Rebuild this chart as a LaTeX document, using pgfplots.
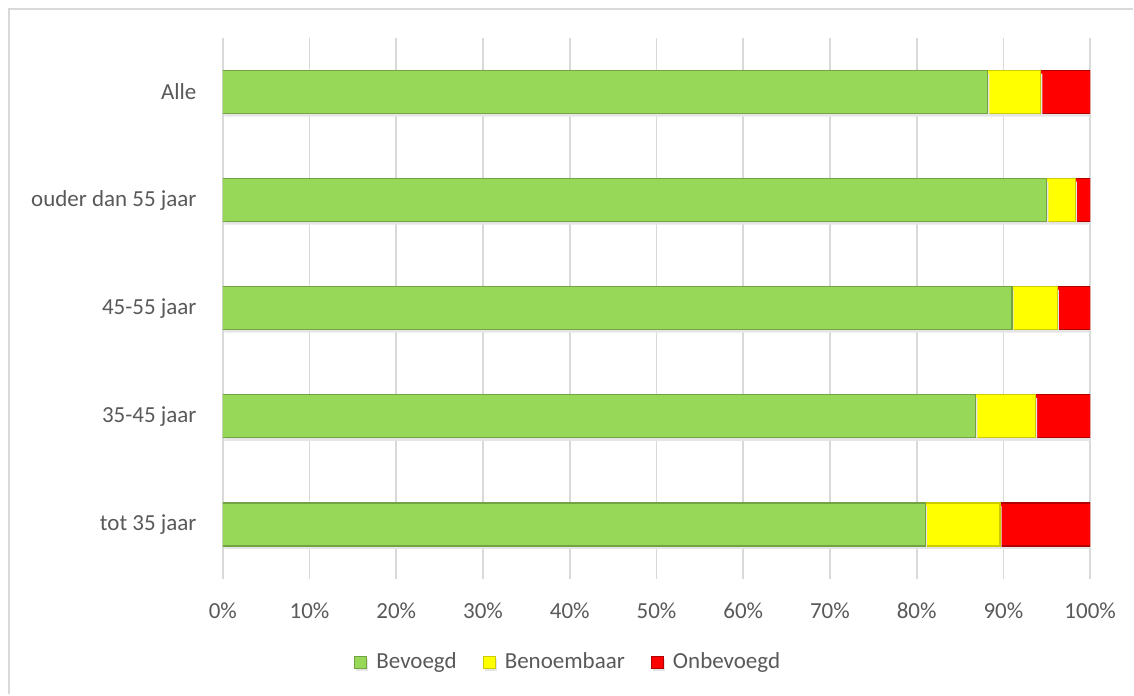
\documentclass[border=0pt]{standalone}
\usepackage{pgfplots}
\pgfplotsset{compat=1.18}
\usepackage{fontspec}
\setmainfont{Carlito}

\definecolor{txtgray}{HTML}{595959}
\definecolor{gridgray}{HTML}{D9D9D9}
\definecolor{bevoegd}{HTML}{98D858}
\definecolor{benoembaar}{HTML}{FFFF00}
\definecolor{onbevoegd}{HTML}{FF0000}

\begin{document}
\begin{tikzpicture}
\fill[white] (-111.5pt,-58pt) rectangle (455.5pt,289.5pt);
% frame of the chart area (only top and left visible in the crop)
\draw[gridgray, line width=0.9pt] (-107pt,-58pt) -- (-107pt,285pt) -- (455.5pt,285pt);
\begin{axis}[
    at={(0,0)}, anchor=south west,
    scale only axis,
    width=434pt, height=270.5pt,
    xbar stacked,
    bar width=21.5pt,
    xmin=0, xmax=100,
    ymin=-0.5, ymax=4.5,
    xtick={0,10,...,100},
    ytick={0,1,2,3,4},
    yticklabels={tot 35 jaar, 35-45 jaar, 45-55 jaar, ouder dan 55 jaar, Alle},
    xticklabel={\pgfmathprintnumber{\tick}\%},
    /pgf/number format/assume math mode=true,
    xmajorgrids,
    grid style={draw=gridgray, line width=0.9pt},
    axis line style={draw=none},
    major tick style={draw=none},
    tick label style={font=\fontsize{11.5}{13}\selectfont, text=txtgray, inner sep=0pt},
    xticklabel style={anchor=center, yshift=-16pt},
    yticklabel style={anchor=east, xshift=-13pt},
    legend columns=3,
    legend style={
        at={(axis description cs:0.397,-0.155)},
        anchor=center,
        draw=none, fill=none,
        font=\fontsize{11.5}{13}\selectfont,
        text=txtgray,
        nodes={inner sep=0pt},
        /tikz/every odd column/.append style={column sep=4.5pt},
        /tikz/every even column/.append style={column sep=13pt},
    },
    legend image code/.code={
        \filldraw[#1] (0pt,-3pt) rectangle (6pt,3pt);
    },
    every axis plot/.append style={
        line width=0.6pt,
        preaction={draw=none, fill=black!10, transform canvas={yshift=-1.5pt, xshift=0.8pt}},
    },
]
\addplot[fill=bevoegd, draw=bevoegd!75!black]
    coordinates {(81.0,0) (86.8,1) (91.0,2) (95.0,3) (88.2,4)};
\addplot[fill=benoembaar, draw=benoembaar!80!black]
    coordinates {(8.6,0) (6.9,1) (5.2,2) (3.3,3) (6.1,4)};
\addplot[fill=onbevoegd, draw=onbevoegd!70!black]
    coordinates {(10.4,0) (6.3,1) (3.8,2) (1.7,3) (5.7,4)};
\legend{Bevoegd, Benoembaar, Onbevoegd}
\end{axis}
\end{tikzpicture}
\end{document}
